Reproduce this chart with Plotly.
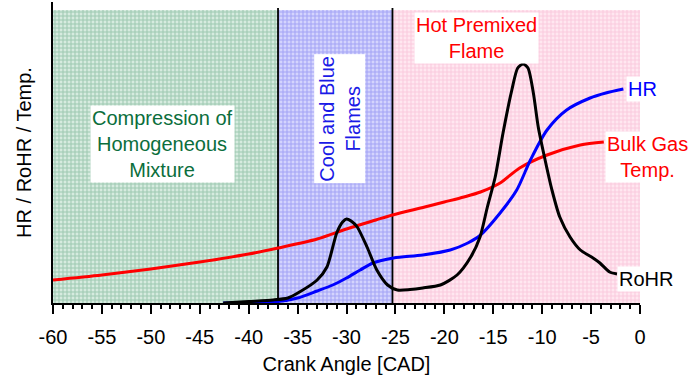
import plotly.graph_objects as go

# Combustion phases along the crank angle axis
region_edges = [-60, -37, -25.3, 0]
region_top = 293
region_bg = ["#d6ebdf", "#d4d4fd", "#ffe7f0"]
region_fg = ["#62a583", "#7373ec", "#f5aecb"]

# Bulk gas temperature
temp_x = [-60, -55, -50, -45, -40, -37, -33, -30, -27, -25.3, -22, -20, -18, -16.3, -14.3,
          -12.3, -9.5, -6.1, -3.7]
temp_y = [23, 28, 34, 41, 49, 55, 64, 74, 83, 88, 96, 101, 106, 111, 120, 135, 148, 158, 161]

# Cumulative heat release
hr_x = [-42.6, -40, -37, -35, -33, -31.4, -30, -28.6, -27.3, -25.2, -22.2, -19.4, -17.6, -16.3,
        -14.3, -12.6, -11.2, -9.5, -7.5, -5.1, -3.5, -1.7]
hr_y = [0, 0.5, 1.5, 5, 12, 18, 25, 33, 40, 45, 48, 53, 60, 68, 90, 113, 143, 173, 193, 205, 210, 214]

# Rate of heat release
rohr_x = [-42.6, -40, -37.5, -36, -34.8, -33, -32, -31, -30.4, -30, -29.4, -28.9, -27.9, -26.9,
          -25.8, -24.8, -23.5, -22.2, -20.4, -18.7, -17.3, -16.35, -15.6, -14.8, -14.0, -13.1,
          -12.5, -11.95, -11.45, -10.9, -10.4, -9.7, -9.0, -8.2, -7.15, -6.1, -4.8, -4.1, -3.1,
          -2.35]
rohr_y = [0, 1.5, 3, 5, 11, 23, 36, 70, 81, 84, 81, 76, 56, 33, 18, 13, 13.5, 15, 18, 28, 46,
          66, 96, 126, 170, 213, 235, 239, 235, 210, 176, 143, 113, 86, 66, 53, 45, 40, 31, 29]

tick_vals = list(range(-60, 1, 5))
tick_text = ["-60", "-55", "-50", "-45", "-40", "-35", "-30", "-25", "-20", "-15", "-10", "-5", "0"]

FONT = "Liberation Sans, Arial, sans-serif"

fig = go.Figure()

# Shaded phase regions as patterned bars
for i in range(3):
    x0, x1 = region_edges[i], region_edges[i + 1]
    fig.add_trace(go.Bar(
        x=[(x0 + x1) / 2], y=[region_top], width=[x1 - x0],
        marker=dict(color=region_bg[i], line=dict(width=0),
                    pattern=dict(shape="+", size=4, solidity=0.45,
                                 fgcolor=region_fg[i], bgcolor=region_bg[i])),
        showlegend=False, hoverinfo="skip"))

# Phase boundaries
for xe in region_edges[1:3]:
    fig.add_trace(go.Scatter(x=[xe, xe], y=[0, region_top + 2], mode="lines",
                             line=dict(color="black", width=1.8), showlegend=False, hoverinfo="skip"))

fig.add_trace(go.Scatter(x=temp_x, y=temp_y, mode="lines",
                         line=dict(color="#ff0000", width=3, shape="spline", smoothing=0.8),
                         showlegend=False))
fig.add_trace(go.Scatter(x=hr_x, y=hr_y, mode="lines",
                         line=dict(color="#0000ff", width=3, shape="spline", smoothing=0.8),
                         showlegend=False))
fig.add_trace(go.Scatter(x=rohr_x, y=rohr_y, mode="lines",
                         line=dict(color="black", width=3, shape="spline", smoothing=0.7),
                         showlegend=False))

def label(text, x, y, color, xanchor="center", angle=0):
    fig.add_annotation(x=x, y=y, text=text, showarrow=False, xanchor=xanchor, yanchor="middle",
                       textangle=angle, align="center", bgcolor="white", borderpad=1,
                       font=dict(family=FONT, size=20, color=color))

label("Compression of<br>Homogeneous<br>Mixture", -48.8, 159, "#0b6e3c")
label("Cool and Blue<br>Flames", -30.7, 184, "#1a1ae6", angle=-90)
label("Hot Premixed<br>Flame", -16.7, 265, "#ff0000")
label("HR", -1.4, 214, "#0000ff", xanchor="left")
label("Bulk Gas<br>Temp.", -3.6, 146, "#ff0000", xanchor="left")
label("RoHR", -2.4, 24, "black", xanchor="left")

fig.update_layout(
    width=692, height=378,
    margin=dict(l=53, r=52, t=2, b=75),
    paper_bgcolor="white", plot_bgcolor="white",
    barmode="overlay", bargap=0,
    font=dict(family=FONT, size=20, color="black"),
    xaxis=dict(range=[-60, 0], tickmode="array", tickvals=tick_vals, ticktext=tick_text,
               ticks="outside", ticklen=9, tickwidth=2, tickcolor="black",
               minor=dict(dtick=1, ticks="outside", ticklen=4, tickwidth=1.5, tickcolor="black"),
               ticklabelstandoff=6,
               showline=True, linecolor="black", linewidth=2, showgrid=False, zeroline=False,
               title=dict(text="Crank Angle [CAD]", font=dict(size=20), standoff=10),
               tickfont=dict(size=20)),
    yaxis=dict(range=[0, 301], showticklabels=False, ticks="", showline=True,
               linecolor="black", linewidth=2, showgrid=False, zeroline=False,
               title=dict(text="HR / RoHR / Temp.", font=dict(size=20), standoff=14)),
)

fig.write_html("out.html")
